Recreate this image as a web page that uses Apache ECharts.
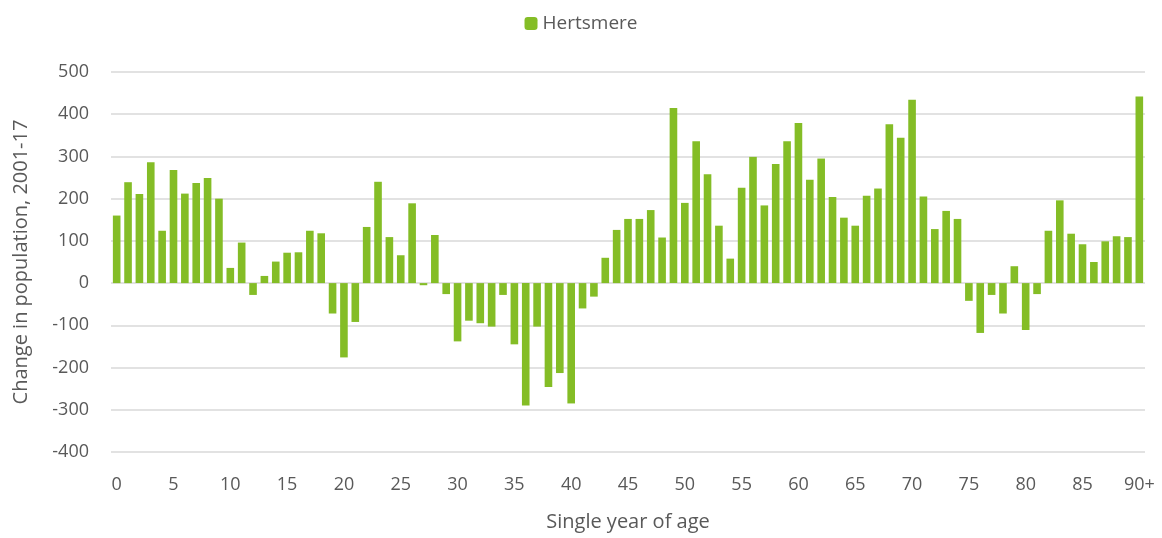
<!DOCTYPE html>
<html>
<head>
<meta charset="utf-8">
<script src="https://cdn.jsdelivr.net/npm/echarts@6/dist/echarts.min.js"></script>
<style>
  html, body { margin: 0; padding: 0; background: #ffffff; }
  #chart { width: 1162px; height: 538px; }
</style>
</head>
<body>
<div id="chart"></div>
<script>
// single year of age, 0..89 then 90+
const ages = [];
for (let i = 0; i < 90; i++) ages.push(String(i));
ages.push("90+");

const seriesName = "Hertsmere";

// change in population 2001-17 by age
const changes = [
  160, 239, 211, 286, 124, 268, 212, 237, 249, 200,
  36, 96, -28, 17, 51, 72, 73, 124, 118, -72,
  -176, -92, 133, 240, 109, 66, 189, -5, 114, -26,
  -138, -89, -95, -103, -28, -145, -290, -103, -246, -213,
  -285, -60, -32, 60, 126, 152, 152, 173, 108, 415,
  190, 336, 258, 136, 58, 226, 299, 184, 282, 336,
  379, 245, 295, 204, 155, 136, 207, 224, 376, 344,
  434, 205, 128, 171, 152, -42, -118, -28, -72, 40,
  -111, -26, 124, 196, 117, 92, 50, 99, 111, 109,
  442
];

const yTicks = { min: -400, max: 500, step: 100 };

const textColor = "#595959";
const gridColor = "#d9d9d9";
const barColor = "#84bd26";
const font = "'Open Sans', 'Liberation Sans', sans-serif";

let myChart = echarts.init(document.getElementById("chart"));
myChart.setOption({
  animation: false,
  textStyle: { fontFamily: font },
  legend: {
    top: 9,
    left: "center",
    itemWidth: 13,
    itemHeight: 13,
    itemGap: 5,
    textStyle: { color: textColor, fontSize: 19, fontFamily: font },
    data: [seriesName]
  },
  grid: { left: 111, right: 17, top: 72, bottom: 86, containLabel: false },
  xAxis: {
    type: "category",
    data: ages,
    name: "Single year of age",
    nameLocation: "middle",
    nameGap: 60,
    nameTextStyle: { color: textColor, fontSize: 20, fontFamily: font },
    axisLine: { show: false, onZero: false },
    axisTick: { show: false },
    axisLabel: {
      interval: 4,
      color: textColor,
      fontSize: 18,
      margin: 24,
      fontFamily: font
    }
  },
  yAxis: {
    type: "value",
    min: yTicks.min,
    max: yTicks.max,
    interval: yTicks.step,
    name: "Change in population, 2001-17",
    nameLocation: "middle",
    nameGap: 80,
    nameTextStyle: { color: textColor, fontSize: 20, fontFamily: font },
    axisLine: { show: false },
    axisTick: { show: false },
    axisLabel: { color: textColor, fontSize: 18, margin: 22, fontFamily: font },
    splitLine: { lineStyle: { color: gridColor, width: 1.5 } }
  },
  series: [
    {
      name: seriesName,
      type: "bar",
      data: changes,
      barCategoryGap: "33%",
      itemStyle: { color: barColor }
    }
  ]
});
</script>
</body>
</html>
